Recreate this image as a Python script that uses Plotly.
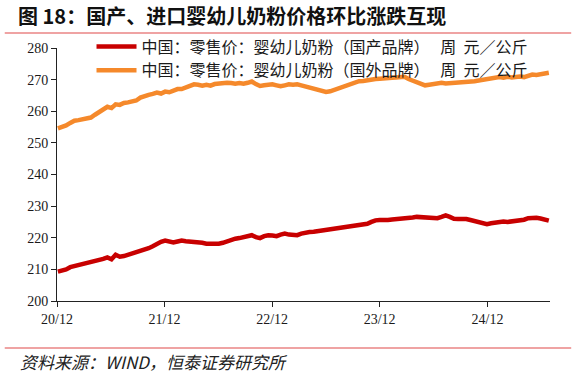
import pandas as pd
import plotly.graph_objects as go

start_date = "2020-12-04"
period = "14D"

domestic = [
    209.3, 209.6, 210.0, 210.7, 211.0, 211.2, 211.6, 212.0, 212.3, 212.5,
    212.9, 213.3, 213.8, 213.2, 214.6, 214.0, 214.2, 214.6, 215.0, 215.4,
    215.7, 216.2, 216.7, 217.3, 218.1, 218.7, 219.1, 218.7, 218.5, 218.8,
    219.1, 218.9, 218.8, 218.9, 218.6, 218.4, 218.1, 218.0, 218.2, 218.1,
    218.4, 218.9, 219.4, 219.7, 219.9, 220.3, 220.6, 220.8, 220.2, 219.9,
    220.5, 220.8, 220.7, 220.5, 221.0, 221.3, 221.0, 220.8, 220.8, 221.3,
    221.7, 221.8, 221.9, 222.1, 222.3, 222.4, 222.6, 222.8, 223.0, 223.2,
    223.4, 223.6, 223.8, 224.0, 224.2, 224.4, 225.0, 225.5, 225.6, 225.5,
    225.6, 225.8, 225.9, 226.1, 225.9, 226.2, 226.4, 226.6, 226.5, 226.4,
    226.5, 226.2, 226.2, 226.6, 227.1, 226.6, 226.0, 225.9, 226.0, 225.9,
    225.6, 225.2, 224.8, 224.4, 224.3, 224.6, 224.8, 225.0, 225.1, 225.0,
    225.2, 225.3, 225.3, 225.7, 226.2, 226.4, 226.3, 226.1, 225.8, 225.4,
]

imported = [
    254.6, 255.0, 255.5, 256.3, 257.0, 257.2, 257.5, 257.8, 258.0, 258.9,
    259.8, 260.7, 261.4, 261.0, 262.2, 262.0, 262.6, 262.8, 263.0, 263.4,
    264.3, 264.9, 265.2, 265.5, 265.9, 265.6, 266.2, 266.0, 266.5, 267.0,
    267.0, 267.6, 268.0, 268.5, 268.4, 268.1, 268.4, 268.1, 268.6, 268.8,
    268.9, 269.0, 268.9, 268.7, 268.9, 268.7, 269.0, 269.4, 268.6, 268.0,
    268.2, 268.5, 268.5, 268.2, 267.9, 268.2, 268.5, 268.4, 268.5, 268.2,
    267.8, 267.5, 267.2, 266.9, 266.5, 266.1, 266.3, 266.8, 267.3, 267.7,
    268.2, 268.7, 269.1, 269.5, 269.6, 269.9, 270.0, 270.2, 270.3, 270.3,
    270.5, 270.6, 270.7, 270.8, 270.9, 270.2, 269.7, 269.2, 268.7, 268.2,
    268.4, 268.7, 268.9, 269.0, 268.8, 268.9, 268.7, 268.8, 268.9, 269.2,
    269.4, 269.5, 269.7, 269.9, 270.2, 270.4, 270.6, 270.8, 270.6, 270.9,
    270.7, 270.9, 271.0, 270.8, 271.2, 271.6, 271.5, 271.8, 272.0, 272.2,
]

tick_vals = ["2020-12-01", "2021-12-01", "2022-12-01", "2023-12-01", "2024-12-01"]
tick_text = ["20/12", "21/12", "22/12", "23/12", "24/12"]
y_ticks = [200, 210, 220, 230, 240, 250, 260, 270, 280]

name_dom = "中国：零售价：婴幼儿奶粉（国产品牌）   周  元／公斤"
name_imp = "中国：零售价：婴幼儿奶粉（国外品牌）   周  元／公斤"

dates = pd.date_range(start=start_date, periods=len(domestic), freq=period)

fig = go.Figure()
fig.add_trace(go.Scatter(x=dates, y=domestic, mode="lines", name=name_dom,
                         line=dict(color="#c80000", width=4.5)))
fig.add_trace(go.Scatter(x=dates, y=imported, mode="lines", name=name_imp,
                         line=dict(color="#f5892b", width=4.5)))

axis_font = dict(family="Liberation Serif, Times New Roman, serif", size=14, color="#1a1a1a")

fig.update_layout(
    width=576, height=374,
    margin=dict(l=57, r=26, t=48, b=73),
    paper_bgcolor="white", plot_bgcolor="white",
    showlegend=True,
    legend=dict(x=0.07, y=1.073, xanchor="left", yanchor="top",
                bgcolor="rgba(0,0,0,0)", itemwidth=40, tracegroupgap=0,
                font=dict(family="Noto Sans CJK SC", size=16, color="#1a1a1a")),
    title=dict(text="<b>图 18：国产、进口婴幼儿奶粉价格环比涨跌互现</b>",
               x=18/576, y=1-17/374, xref="container", yref="container",
               xanchor="left", yanchor="middle",
               font=dict(family="Noto Sans CJK SC", size=20, color="#111111")),
    xaxis=dict(range=["2020-12-01", "2025-07-01"], tickvals=tick_vals, ticktext=tick_text,
               showline=True, linecolor="#222222", linewidth=1, ticks="outside",
               ticklen=5, tickcolor="#222222", showgrid=False, zeroline=False,
               tickfont=axis_font),
    yaxis=dict(range=[200, 280], tickvals=y_ticks, showline=True, linecolor="#222222",
               linewidth=1, ticks="outside", ticklen=5, tickcolor="#222222",
               showgrid=False, zeroline=False, tickfont=axis_font),
    shapes=[
        dict(type="line", xref="paper", yref="paper", x0=-0.106, x1=1.043,
             y0=(301-33)/253, y1=(301-33)/253, line=dict(color="#e04848", width=1.2)),
        dict(type="line", xref="paper", yref="paper", x0=-0.106, x1=1.043,
             y0=(301-348)/253, y1=(301-348)/253, line=dict(color="#e04848", width=1.2)),
    ],
    annotations=[
        dict(text="<i>资料来源：WIND，恒泰证券研究所</i>", xref="paper", yref="paper",
             x=(18-57)/493, y=(301-361)/253, xanchor="left", yanchor="middle",
             showarrow=False,
             font=dict(family="Noto Sans CJK SC", size=17, color="#222222")),
    ],
)

fig.write_html("out.html")
